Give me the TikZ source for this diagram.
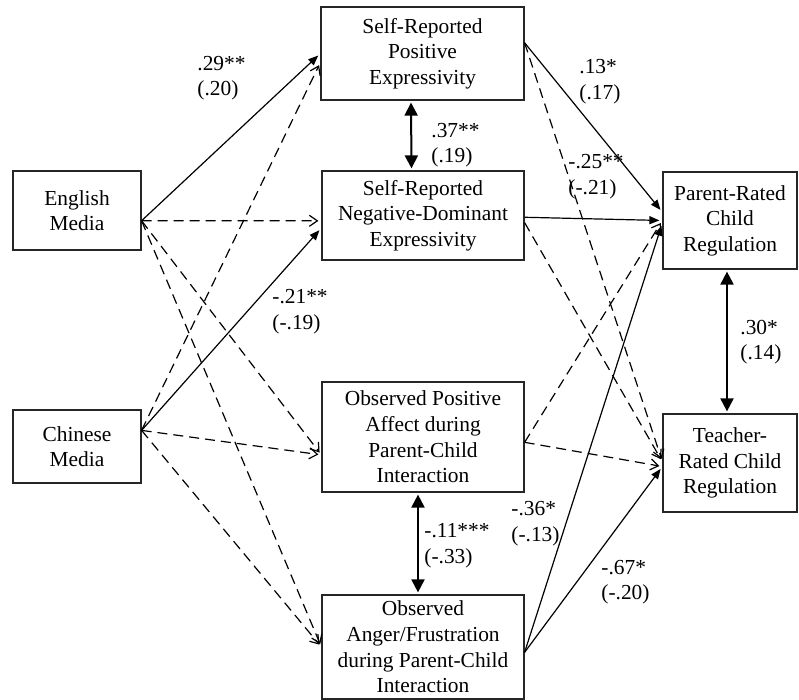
\documentclass[tikz,border=0pt]{standalone}
\usepackage{fontspec}
\setmainfont{Liberation Serif}
\usetikzlibrary{arrows.meta}

\begin{document}
\begin{tikzpicture}[x=0.5pt,y=-0.5pt,
    box/.style={draw=black!85, line width=0.6pt, align=center, inner sep=0pt,
      font=\fontsize{10.7}{12.8}\selectfont},
    coef/.style={align=left, anchor=west, inner sep=0pt,
      font=\fontsize{10.7}{12.8}\selectfont},
    sig/.style={-{Triangle[length=5pt,width=4pt]}, line width=0.6pt, shorten >=1.5pt},
    ns/.style={-{Straight Barb[length=4pt,width=5.5pt]}, line width=0.6pt,
      dash pattern=on 5pt off 3pt, shorten >=1.5pt},
    cov/.style={{Triangle[length=6.5pt,width=6.5pt]}-{Triangle[length=6.5pt,width=6.5pt]},
      line width=1pt, shorten <=1pt, shorten >=1pt}]
      \useasboundingbox (0,0) rectangle (799,700);

      % Draw boxes
      \node[box, minimum width=64pt, minimum height=39.5pt] (eng) at (77,210.5) {English\\Media};
      \node[box, minimum width=64pt, minimum height=36.5pt] (chi) at (77,446.5) {Chinese\\Media};
      \node[box, minimum width=101.5pt, minimum height=46.5pt] (srp) at (422.5,53.5) {Self-Reported\\Positive\\Expressivity};
      \node[box, minimum width=101pt, minimum height=44.5pt] (srn) at (423,215.5) {Self-Reported\\Negative-Dominant\\Expressivity};
      \node[box, minimum width=101pt, minimum height=55pt] (opa) at (423,437) {Observed Positive\\Affect during\\Parent-Child\\Interaction};
      \node[box, minimum width=101pt, minimum height=52pt] (oaf) at (423,647) {Observed\\Anger/Frustration\\during Parent-Child\\Interaction};
      \node[box, minimum width=67pt, minimum height=48.5pt] (prc) at (730,220.5) {Parent-Rated\\Child\\Regulation};
      \node[box, minimum width=67pt, minimum height=49pt] (trc) at (730,463) {Teacher-\\Rated Child\\Regulation};

      % Paths from media use
      \draw[sig] (eng.-9) -- (srp.west);
      \draw[ns] (eng.-9) -- (srn.183);
      \draw[ns] (eng.-9) -- (opa.190);
      \draw[ns] (eng.-9) -- (oaf.west);
      \draw[sig] (chi.14) -- (srn.187);
      \draw[ns] (chi.14) -- (srp.185);
      \draw[ns] (chi.14) -- (opa.190);
      \draw[ns] (chi.14) -- (oaf.west);

      % Paths to child regulation
      \draw[sig] (srp.6) -- (prc.173);
      \draw[ns] (srp.6) -- (trc.179);
      \draw[sig] (srn.-1) -- (prc.west);
      \draw[ns] (srn.-4) -- (trc.179);
      \draw[ns] (opa.-3) -- (prc.west);
      \draw[ns] (opa.-3) -- (trc.183);
      \draw[sig] (oaf.-3) -- (prc.182);
      \draw[sig] (oaf.-3) -- (trc.183);

      % Correlations
      \draw[cov] ([xshift=-5.75pt]srp.south) -- ([xshift=-5.75pt]srn.north);
      \draw[cov] ([xshift=-2.5pt]opa.south) -- ([xshift=-2.5pt]oaf.north);
      \draw[cov] ([xshift=-1.5pt]prc.south) -- ([xshift=-1.5pt]trc.north);

      % Label coefficients
      \node[coef] (b1) at (197,78) {.29**\\(.20)};
      \node[coef] (b2) at (272,311.5) {-.21**\\(-.19)};
      \node[coef] (r1) at (431,145) {.37**\\(.19)};
      \node[coef] (b3) at (579,81.5) {.13*\\(.17)};
      \node[coef] (b4) at (568,176.5) {-.25**\\(-.21)};
      \node[coef] (r2) at (740,342) {.30*\\(.14)};
      \node[coef] (r3) at (424,546) {-.11***\\(-.33)};
      \node[coef] (b5) at (511,523.5) {-.36*\\(-.13)};
      \node[coef] (b6) at (601,582) {-.67*\\(-.20)};
    \end{tikzpicture}
\end{document}
